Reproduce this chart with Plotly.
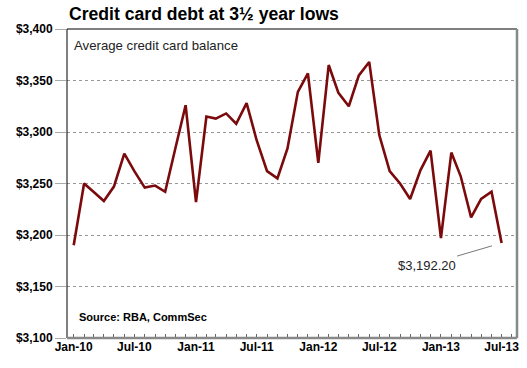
import plotly.graph_objects as go
import pandas as pd

months = pd.date_range("2010-01-01", "2013-07-01", freq="MS")
balance = [3190, 3250, 3242, 3233, 3247, 3279, 3262, 3246, 3248, 3242,
           3285, 3326, 3232, 3315, 3313, 3318, 3308, 3328, 3292, 3262,
           3255, 3284, 3339, 3357, 3270, 3365, 3338, 3325, 3355, 3368,
           3297, 3262, 3250, 3235, 3263, 3282, 3197, 3280, 3257, 3217,
           3235, 3242, 3192.2]

title = "Credit card debt at 3½ year lows"
subtitle = "Average credit card balance"
source = "Source: RBA, CommSec"
last_label = "$3,192.20"

FONT = "Liberation Sans, Arial, sans-serif"
LINE = "#7a0a0c"

fig = go.Figure()
fig.add_trace(go.Scatter(x=list(months), y=balance, mode="lines",
                         line=dict(color=LINE, width=2.6), hoverinfo="skip"))

fig.update_layout(
    width=527, height=368,
    margin=dict(l=67, r=10, t=29, b=30),
    paper_bgcolor="white", plot_bgcolor="white",
    showlegend=False,
    font=dict(family=FONT, color="black"),
    xaxis=dict(
        automargin=False,
        range=["2009-12-12", "2013-08-16"],
        tickvals=list(months[::6]),
        tickformat="%b-%y",
        ticks="inside", ticklen=4, tickcolor="#666",
        minor=dict(dtick="M1", tick0="2010-01-01", ticks="inside", ticklen=4, tickcolor="#666"),
        showgrid=False, zeroline=False,
        showline=False,
        tickfont=dict(family=FONT, size=12, color="black", weight="bold"),
    ),
    yaxis=dict(
        automargin=False,
        range=[3100, 3400], dtick=50, tick0=3100,
        tickformat="$,.0f",
        ticks="outside", ticklen=11, tickcolor="#aaa", tickwidth=1,
        showgrid=True, gridcolor="#999", griddash="dot", gridwidth=1,
        zeroline=False, showline=False,
        tickfont=dict(family=FONT, size=12, color="black", weight="bold"),
    ),
)

# Border: black top/left, gray heavier right/bottom
fig.add_shape(type="line", xref="paper", yref="paper", x0=0, x1=1, y0=1, y1=1,
              line=dict(color="black", width=1))
fig.add_shape(type="line", xref="paper", yref="paper", x0=0, x1=0, y0=0, y1=1,
              line=dict(color="black", width=1))
fig.add_shape(type="line", xref="paper", yref="paper", x0=1, x1=1, y0=0, y1=1,
              line=dict(color="#888", width=2.5))
fig.add_shape(type="line", xref="paper", yref="paper", x0=0, x1=1, y0=0, y1=0,
              line=dict(color="#888", width=2.5))

fig.add_annotation(text=f"<b>{title}</b>", xref="paper", yref="paper",
                   x=0.0, y=1.0485, xanchor="left", yanchor="middle",
                   showarrow=False, font=dict(family=FONT, size=17.6, color="black"))
fig.add_annotation(text=subtitle, xref="paper", yref="paper",
                   x=0.011, y=0.948, xanchor="left", yanchor="middle",
                   showarrow=False, font=dict(family=FONT, size=13.2, color="#222"))
fig.add_annotation(text=f"<b>{source}</b>", xref="paper", yref="paper",
                   x=0.022, y=0.068, xanchor="left", yanchor="middle",
                   showarrow=False, font=dict(family=FONT, size=11, color="black"))
fig.add_annotation(text=last_label, x=months[-1], y=balance[-1],
                   ax=-75, ay=22, showarrow=True, arrowhead=0,
                   arrowwidth=0.8, arrowcolor="#555", standoff=10,
                   font=dict(family=FONT, size=13, color="#222"))

fig.write_html("out.html", config={"displayModeBar": False},
               post_script="document.body.style.margin='0';document.body.style.overflow='hidden';")
